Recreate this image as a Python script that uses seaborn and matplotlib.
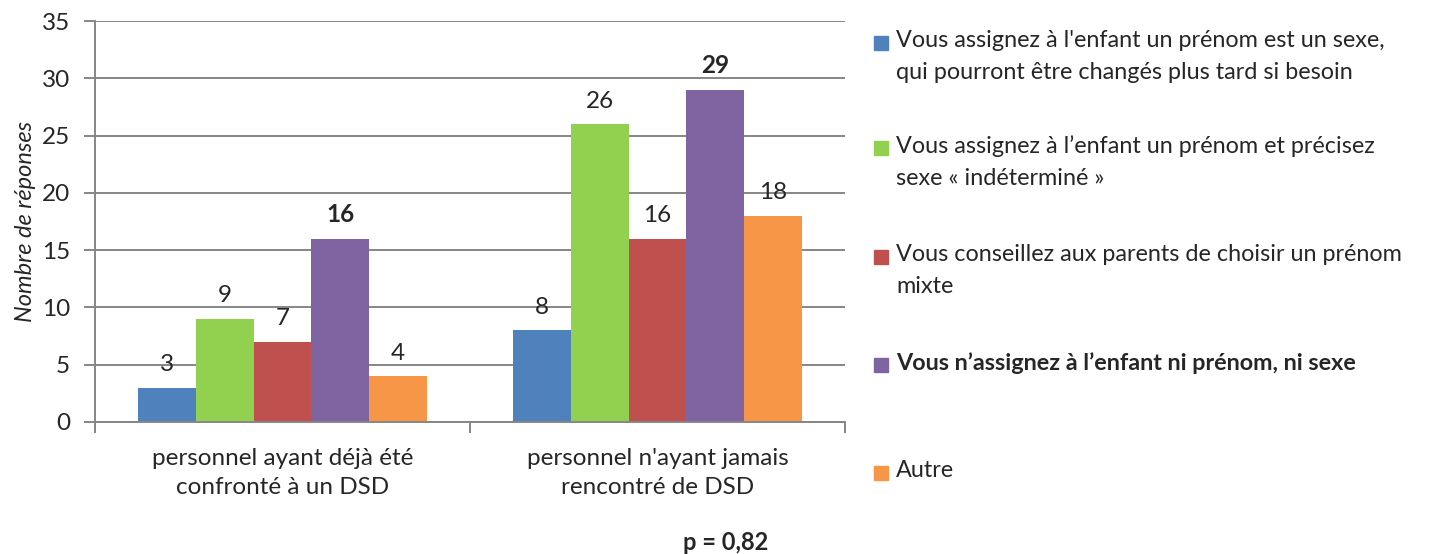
import matplotlib
matplotlib.use("Agg")
import matplotlib.pyplot as plt
import seaborn as sns
import pandas as pd
from matplotlib.patches import Rectangle

categories = ["personnel ayant déjà été\nconfronté à un DSD",
              "personnel n'ayant jamais\nrencontré de DSD"]
series = ["Vous assignez à l'enfant un prénom est un sexe,\nqui pourront être changés plus tard si besoin",
          "Vous assignez à l’enfant un prénom et précisez\nsexe « indéterminé »",
          "Vous conseillez aux parents de choisir un prénom\nmixte",
          "Vous n’assignez à l’enfant ni prénom, ni sexe",
          "Autre"]
values = [[3, 8], [9, 26], [7, 16], [16, 29], [4, 18]]
colors = ["#4F81BD", "#92D050", "#C0504D", "#8064A2", "#F79646"]
bold_series = 3
y_ticks = [0, 5, 10, 15, 20, 25, 30, 35]
y_label = "Nombre de réponses"
p_text = "p = 0,82"

rows = []
for s, vals in zip(series, values):
    for c, v in zip(categories, vals):
        rows.append({"cat": c, "serie": s, "val": v})
df = pd.DataFrame(rows)

sns.set_theme(style="white")
FONT = "Lato"
plt.rcParams["font.family"] = [FONT, "DejaVu Sans"]

fig = plt.figure(figsize=(14.5, 5.54), dpi=100)
ax = fig.add_axes([95/1450, 1-422/554, 750/1450, 401/554])

sns.barplot(data=df, x="cat", y="val", hue="serie", order=categories,
            hue_order=series, palette=colors, width=0.77, saturation=1,
            ax=ax, legend=False, linewidth=0)

FS = 17.5
grid_c = "#868686"
ax.set_ylim(0, 35)
ax.set_xlim(-0.5, 1.5)
ax.set_yticks(y_ticks)
ax.set_yticklabels([str(t) for t in y_ticks], fontsize=FS)
ax.yaxis.grid(True, color=grid_c, linewidth=1.4)
ax.set_axisbelow(True)
for sp in ["top", "right"]:
    ax.spines[sp].set_visible(False)
for sp in ["left", "bottom"]:
    ax.spines[sp].set_color(grid_c)
    ax.spines[sp].set_linewidth(1.4)
ax.tick_params(axis="y", length=8, width=1.4, color=grid_c, pad=10, left=True)

# category labels at centers, tick marks at boundaries
ax.set_xticks([-0.5, 0.5, 1.5])
ax.set_xticklabels([])
ax.tick_params(axis="x", length=8, width=1.4, color=grid_c, bottom=True)
for i, c in enumerate(categories):
    ax.text(i, -2.3, c, ha="center", va="top", fontsize=FS,
            linespacing=1.45, transform=ax.transData)
ax.set_xlabel("")
ax.set_ylabel(y_label, fontsize=FS - 0.5, style="italic", labelpad=4)

for k, cont in enumerate(ax.containers):
    ax.bar_label(cont, labels=[str(v) for v in values[k]], padding=9,
                 fontsize=FS, fontweight="bold" if k == bold_series else "normal")

# legend
ys = [43, 148, 257, 365, 473]
for k, (s, col) in enumerate(zip(series, colors)):
    y = ys[k]
    fig.patches.append(Rectangle((874/1450, 1-(y+7)/554), 14/1450, 14/554,
                                 transform=fig.transFigure, color=col))
    fig.text(896/1450, 1-(y-13)/554, s, ha="left", va="top", fontsize=16.8,
             linespacing=1.65, fontweight="bold" if k == bold_series else "normal")

fig.text(726/1450, 1-542/554, p_text, ha="center", va="center",
         fontsize=FS - 0.5, fontweight="bold")

fig.savefig("out.png", dpi=100)
